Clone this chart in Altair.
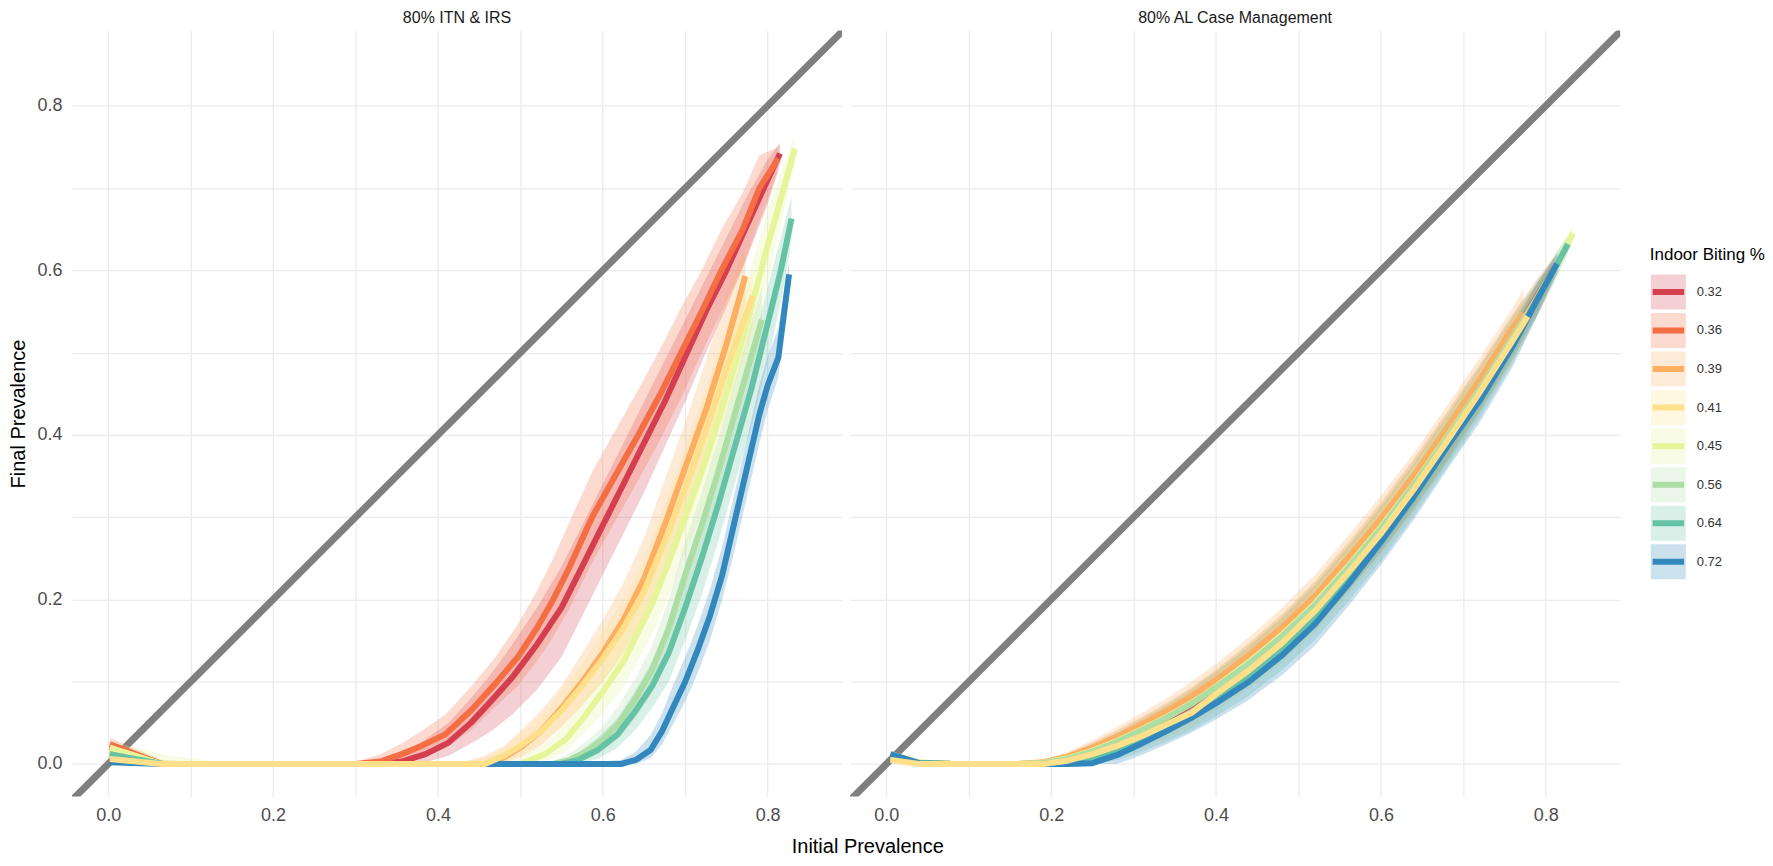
import altair as alt
import pandas as pd

FONT = "Liberation Sans"
CATS = ["0.32", "0.36", "0.39", "0.41", "0.45", "0.56", "0.64", "0.72"]
COLORS = ["#d53e4f", "#f46d43", "#fdae61", "#fee08b", "#e6f598", "#abdda4", "#66c2a5", "#3288bd"]
DRAW_ORDER = ["0.32", "0.36", "0.39", "0.45", "0.56", "0.64", "0.72", "0.41"]
PANEL_ITN = "80% ITN & IRS"
PANEL_AL = "80% AL Case Management"
X_TITLE = "Initial Prevalence"
Y_TITLE = "Final Prevalence"
LEGEND_TITLE = "Indoor Biting %"
TICKS = [0.0, 0.1, 0.2, 0.3, 0.4, 0.5, 0.6, 0.7, 0.8]
DIAG = [-0.1, 1.0]
XDOM = [-0.044, 0.8903]
YDOM = [-0.0396, 0.8916]

# ---------------- 80% ITN & IRS ----------------
ITN_032_X = [0.002, 0.065, 0.15, 0.25, 0.33, 0.356, 0.385, 0.413, 0.44, 0.465, 0.49, 0.52, 0.55, 0.575, 0.60, 0.625, 0.65, 0.675, 0.70, 0.725, 0.75, 0.775, 0.80, 0.815]
ITN_032_Y = [0.020, 0.0, 0.0, 0.0, 0.0, 0.003, 0.012, 0.026, 0.05, 0.077, 0.105, 0.145, 0.19, 0.24, 0.29, 0.34, 0.39, 0.44, 0.495, 0.55, 0.60, 0.655, 0.71, 0.742]
ITN_032_LO = [0.012, 0.0, 0.0, 0.0, 0.0, 0.0, 0.002, 0.01, 0.025, 0.04, 0.06, 0.09, 0.13, 0.18, 0.23, 0.28, 0.33, 0.385, 0.44, 0.5, 0.555, 0.615, 0.68, 0.73]
ITN_032_HI = [0.028, 0.004, 0.0, 0.0, 0.002, 0.012, 0.03, 0.05, 0.08, 0.11, 0.145, 0.19, 0.24, 0.29, 0.34, 0.39, 0.44, 0.49, 0.54, 0.59, 0.64, 0.69, 0.735, 0.755]

ITN_036_X = [0.002, 0.065, 0.15, 0.25, 0.30, 0.33, 0.356, 0.38, 0.409, 0.441, 0.47, 0.497, 0.52, 0.54, 0.56, 0.587, 0.615, 0.643, 0.67, 0.695, 0.72, 0.744, 0.77, 0.79, 0.813]
ITN_036_Y = [0.024, 0.0, 0.0, 0.0, 0.0, 0.003, 0.012, 0.022, 0.036, 0.066, 0.098, 0.13, 0.165, 0.2, 0.24, 0.3, 0.35, 0.4, 0.45, 0.5, 0.55, 0.6, 0.65, 0.7, 0.736]
ITN_036_LO = [0.016, 0.0, 0.0, 0.0, 0.0, 0.0, 0.003, 0.01, 0.02, 0.042, 0.07, 0.095, 0.125, 0.155, 0.19, 0.245, 0.295, 0.345, 0.395, 0.445, 0.5, 0.55, 0.605, 0.66, 0.72]
ITN_036_HI = [0.032, 0.005, 0.0, 0.0, 0.002, 0.012, 0.025, 0.04, 0.06, 0.095, 0.13, 0.17, 0.21, 0.25, 0.295, 0.355, 0.405, 0.455, 0.505, 0.555, 0.6, 0.65, 0.695, 0.74, 0.75]

ITN_039_X = [0.002, 0.065, 0.15, 0.25, 0.35, 0.43, 0.457, 0.48, 0.50, 0.525, 0.55, 0.575, 0.60, 0.625, 0.65, 0.675, 0.70, 0.725, 0.75, 0.773]
ITN_039_Y = [0.015, 0.0, 0.0, 0.0, 0.0, 0.0, 0.0, 0.008, 0.02, 0.04, 0.068, 0.10, 0.135, 0.175, 0.225, 0.29, 0.36, 0.43, 0.51, 0.593]
ITN_039_LO = [0.008, 0.0, 0.0, 0.0, 0.0, 0.0, 0.0, 0.001, 0.008, 0.022, 0.045, 0.072, 0.1, 0.135, 0.18, 0.24, 0.305, 0.375, 0.455, 0.56]
ITN_039_HI = [0.022, 0.004, 0.0, 0.0, 0.0, 0.002, 0.01, 0.022, 0.04, 0.065, 0.095, 0.135, 0.175, 0.22, 0.275, 0.345, 0.415, 0.49, 0.57, 0.63]

ITN_041_X = [0.002, 0.065, 0.15, 0.25, 0.35, 0.43, 0.457, 0.48, 0.50, 0.525, 0.55, 0.575, 0.60, 0.625, 0.65, 0.675, 0.70, 0.725, 0.75, 0.782]
ITN_041_Y = [0.006, 0.0, 0.0, 0.0, 0.0, 0.0, 0.0, 0.01, 0.022, 0.04, 0.065, 0.095, 0.128, 0.165, 0.21, 0.27, 0.335, 0.405, 0.48, 0.569]
ITN_041_LO = [0.002, 0.0, 0.0, 0.0, 0.0, 0.0, 0.0, 0.003, 0.01, 0.025, 0.045, 0.07, 0.1, 0.13, 0.17, 0.225, 0.285, 0.355, 0.43, 0.53]
ITN_041_HI = [0.012, 0.003, 0.0, 0.0, 0.0, 0.002, 0.008, 0.02, 0.036, 0.058, 0.088, 0.122, 0.16, 0.2, 0.25, 0.315, 0.385, 0.455, 0.53, 0.6]

ITN_045_X = [0.002, 0.065, 0.15, 0.25, 0.35, 0.45, 0.50, 0.53, 0.555, 0.578, 0.60, 0.626, 0.645, 0.66, 0.68, 0.70, 0.725, 0.75, 0.775, 0.80, 0.833]
ITN_045_Y = [0.02, 0.0, 0.0, 0.0, 0.0, 0.0, 0.0, 0.012, 0.03, 0.058, 0.088, 0.126, 0.165, 0.195, 0.245, 0.3, 0.37, 0.45, 0.535, 0.63, 0.748]
ITN_045_LO = [0.012, 0.0, 0.0, 0.0, 0.0, 0.0, 0.0, 0.003, 0.015, 0.038, 0.062, 0.095, 0.13, 0.158, 0.205, 0.255, 0.32, 0.4, 0.485, 0.585, 0.73]
ITN_045_HI = [0.028, 0.012, 0.0, 0.0, 0.0, 0.002, 0.008, 0.025, 0.048, 0.08, 0.115, 0.158, 0.2, 0.232, 0.285, 0.345, 0.42, 0.5, 0.585, 0.675, 0.765]

ITN_056_X = [0.002, 0.065, 0.15, 0.25, 0.35, 0.45, 0.54, 0.56, 0.58, 0.60, 0.62, 0.64, 0.66, 0.68, 0.70, 0.72, 0.74, 0.76, 0.78, 0.793]
ITN_056_Y = [0.01, 0.0, 0.0, 0.0, 0.0, 0.0, 0.0, 0.005, 0.015, 0.03, 0.05, 0.08, 0.115, 0.165, 0.23, 0.29, 0.355, 0.425, 0.495, 0.54]
ITN_056_LO = [0.005, 0.0, 0.0, 0.0, 0.0, 0.0, 0.0, 0.0, 0.006, 0.016, 0.032, 0.056, 0.088, 0.13, 0.19, 0.25, 0.315, 0.385, 0.455, 0.51]
ITN_056_HI = [0.016, 0.003, 0.0, 0.0, 0.0, 0.0, 0.004, 0.013, 0.027, 0.046, 0.072, 0.105, 0.145, 0.2, 0.27, 0.33, 0.395, 0.465, 0.535, 0.58]

ITN_064_X = [0.002, 0.065, 0.15, 0.25, 0.35, 0.45, 0.55, 0.57, 0.594, 0.618, 0.64, 0.66, 0.68, 0.70, 0.72, 0.74, 0.76, 0.78, 0.80, 0.816, 0.829]
ITN_064_Y = [0.012, 0.0, 0.0, 0.0, 0.0, 0.0, 0.0, 0.005, 0.017, 0.036, 0.065, 0.095, 0.135, 0.19, 0.25, 0.315, 0.385, 0.455, 0.535, 0.6, 0.663]
ITN_064_LO = [0.006, 0.0, 0.0, 0.0, 0.0, 0.0, 0.0, 0.0, 0.006, 0.02, 0.042, 0.068, 0.1, 0.15, 0.205, 0.27, 0.34, 0.41, 0.49, 0.56, 0.635]
ITN_064_HI = [0.018, 0.003, 0.0, 0.0, 0.0, 0.0, 0.003, 0.014, 0.032, 0.056, 0.09, 0.125, 0.17, 0.23, 0.295, 0.36, 0.43, 0.5, 0.58, 0.64, 0.69]

ITN_072_X = [0.002, 0.065, 0.15, 0.25, 0.35, 0.45, 0.55, 0.622, 0.64, 0.658, 0.672, 0.685, 0.70, 0.715, 0.73, 0.745, 0.76, 0.775, 0.79, 0.80, 0.813, 0.826]
ITN_072_Y = [0.002, 0.0, 0.0, 0.0, 0.0, 0.0, 0.0, 0.0, 0.005, 0.017, 0.04, 0.068, 0.1, 0.138, 0.18, 0.23, 0.295, 0.36, 0.425, 0.46, 0.494, 0.595]
ITN_072_LO = [0.0, 0.0, 0.0, 0.0, 0.0, 0.0, 0.0, 0.0, 0.0, 0.007, 0.024, 0.048, 0.076, 0.11, 0.15, 0.2, 0.26, 0.325, 0.39, 0.43, 0.47, 0.58]
ITN_072_HI = [0.004, 0.002, 0.0, 0.0, 0.0, 0.0, 0.0, 0.005, 0.015, 0.035, 0.062, 0.095, 0.13, 0.168, 0.212, 0.265, 0.33, 0.395, 0.46, 0.495, 0.53, 0.61]

# ---------------- 80% AL Case Management ----------------
AL_X_GRID = [0.005, 0.04, 0.08, 0.12, 0.16, 0.19, 0.22, 0.25, 0.28, 0.31, 0.34, 0.37, 0.40, 0.44, 0.48, 0.52, 0.56, 0.60, 0.64, 0.68, 0.72, 0.76]
AL_W_GRID = [0.004, 0.002, 0.0, 0.0, 0.001, 0.003, 0.006, 0.009, 0.012, 0.014, 0.016, 0.018, 0.02, 0.022, 0.024, 0.026, 0.027, 0.028, 0.028, 0.028, 0.027, 0.025]

AL_032_Y = [0.008, 0.001, 0.0, 0.0, 0.0, 0.0, 0.005, 0.014, 0.026, 0.04, 0.055, 0.072, 0.092, 0.121, 0.154, 0.192, 0.237, 0.285, 0.338, 0.395, 0.455, 0.518]
AL_032_XEND = [0.79, 0.81]
AL_032_YEND = [0.566, 0.603]
AL_032_WEND = [0.02, 0.012]

AL_036_Y = [0.010, 0.001, 0.0, 0.0, 0.0, 0.001, 0.007, 0.017, 0.029, 0.043, 0.058, 0.075, 0.095, 0.125, 0.158, 0.196, 0.242, 0.29, 0.343, 0.40, 0.459, 0.522]
AL_036_XEND = [0.79, 0.815]
AL_036_YEND = [0.57, 0.61]
AL_036_WEND = [0.02, 0.012]

AL_039_Y = [0.008, 0.001, 0.0, 0.0, 0.0, 0.002, 0.009, 0.02, 0.033, 0.048, 0.064, 0.082, 0.102, 0.132, 0.166, 0.204, 0.25, 0.298, 0.35, 0.407, 0.467, 0.53]
AL_039_XEND = [0.773]
AL_039_YEND = [0.548]
AL_039_WEND = [0.03]

AL_041_Y = [0.005, 0.0, 0.0, 0.0, 0.0, 0.0, 0.004, 0.012, 0.022, 0.034, 0.048, 0.062, 0.085, 0.114, 0.147, 0.186, 0.232, 0.28, 0.334, 0.392, 0.452, 0.515]
AL_041_XEND = [0.778]
AL_041_YEND = [0.544]
AL_041_WEND = [0.02]

AL_045_Y = [0.012, 0.002, 0.0, 0.0, 0.0, 0.001, 0.007, 0.016, 0.028, 0.042, 0.057, 0.074, 0.094, 0.124, 0.157, 0.195, 0.24, 0.288, 0.34, 0.397, 0.456, 0.519]
AL_045_XEND = [0.79, 0.815, 0.833]
AL_045_YEND = [0.567, 0.61, 0.645]
AL_045_WEND = [0.02, 0.015, 0.01]

AL_056_Y = [0.009, 0.001, 0.0, 0.0, 0.0, 0.001, 0.006, 0.015, 0.027, 0.041, 0.056, 0.073, 0.093, 0.122, 0.155, 0.193, 0.238, 0.286, 0.339, 0.396, 0.456, 0.519]
AL_056_XEND = [0.79, 0.80]
AL_056_YEND = [0.567, 0.585]
AL_056_WEND = [0.02, 0.015]

AL_064_Y = [0.009, 0.001, 0.0, 0.0, 0.0, 0.0, 0.002, 0.008, 0.017, 0.029, 0.043, 0.058, 0.078, 0.105, 0.138, 0.177, 0.224, 0.274, 0.329, 0.388, 0.447, 0.512]
AL_064_XEND = [0.79, 0.815, 0.827]
AL_064_YEND = [0.565, 0.61, 0.632]
AL_064_WEND = [0.02, 0.015, 0.01]

AL_072_Y = [0.012, 0.001, 0.0, 0.0, 0.0, 0.0, 0.0, 0.001, 0.011, 0.025, 0.04, 0.056, 0.074, 0.1, 0.132, 0.17, 0.218, 0.27, 0.325, 0.385, 0.442, 0.508]
AL_072_XEND = [0.79, 0.8137]
AL_072_YEND = [0.565, 0.608]
AL_072_WEND = [0.02, 0.012]

# ---------------- build table ----------------
ITN_SERIES = {
    "0.32": (ITN_032_X, ITN_032_Y, ITN_032_LO, ITN_032_HI),
    "0.36": (ITN_036_X, ITN_036_Y, ITN_036_LO, ITN_036_HI),
    "0.39": (ITN_039_X, ITN_039_Y, ITN_039_LO, ITN_039_HI),
    "0.41": (ITN_041_X, ITN_041_Y, ITN_041_LO, ITN_041_HI),
    "0.45": (ITN_045_X, ITN_045_Y, ITN_045_LO, ITN_045_HI),
    "0.56": (ITN_056_X, ITN_056_Y, ITN_056_LO, ITN_056_HI),
    "0.64": (ITN_064_X, ITN_064_Y, ITN_064_LO, ITN_064_HI),
    "0.72": (ITN_072_X, ITN_072_Y, ITN_072_LO, ITN_072_HI),
}
AL_SERIES = {
    "0.32": (AL_032_Y, AL_032_XEND, AL_032_YEND, AL_032_WEND),
    "0.36": (AL_036_Y, AL_036_XEND, AL_036_YEND, AL_036_WEND),
    "0.39": (AL_039_Y, AL_039_XEND, AL_039_YEND, AL_039_WEND),
    "0.41": (AL_041_Y, AL_041_XEND, AL_041_YEND, AL_041_WEND),
    "0.45": (AL_045_Y, AL_045_XEND, AL_045_YEND, AL_045_WEND),
    "0.56": (AL_056_Y, AL_056_XEND, AL_056_YEND, AL_056_WEND),
    "0.64": (AL_064_Y, AL_064_XEND, AL_064_YEND, AL_064_WEND),
    "0.72": (AL_072_Y, AL_072_XEND, AL_072_YEND, AL_072_WEND),
}

rows = []
for cat, (xs, ys, los, his) in ITN_SERIES.items():
    for x, y, lo, hi in zip(xs, ys, los, his):
        rows.append({"panel": PANEL_ITN, "cat": cat, "x": x, "y": y, "lo": lo, "hi": hi})
for cat, (ys, xe, ye, we) in AL_SERIES.items():
    for x, y, w in zip(AL_X_GRID + xe, ys + ye, AL_W_GRID + we):
        rows.append({"panel": PANEL_AL, "cat": cat, "x": x, "y": y, "lo": max(0.0, y - w), "hi": y + w})
df = pd.DataFrame(rows)
diag_df = pd.DataFrame({"x": DIAG, "y": DIAG})
leg_df = pd.DataFrame({"cat": CATS})
leg_title_df = pd.DataFrame({"t": [LEGEND_TITLE]})

LABEL_EXPR = "abs(round(datum.value * 10)) % 2 == 0 ? format(datum.value, '.1f') : ''"
PW, PH = 771, 767


def panel(name, show_y):
    d = df[df["panel"] == name]
    xaxis = alt.Axis(values=TICKS, labelExpr=LABEL_EXPR, title=None, ticks=False, tickSize=0,
                     domain=False, labelPadding=10, labelFontSize=18, labelColor="#4d4d4d",
                     labelFont=FONT, grid=True)
    if show_y:
        yaxis = alt.Axis(values=TICKS, labelExpr=LABEL_EXPR, title=Y_TITLE, ticks=False, tickSize=0,
                         domain=False, labelPadding=10, labelFontSize=18, labelColor="#4d4d4d",
                         labelFont=FONT, grid=True, titleFontSize=20, titleFont=FONT,
                         titleFontWeight="normal", titleColor="#000000", titlePadding=8.5)
    else:
        yaxis = alt.Axis(values=TICKS, labels=False, title=None, ticks=False, tickSize=0,
                         domain=False, grid=True)
    xs = alt.Scale(domain=XDOM, nice=False, zero=False)
    ys = alt.Scale(domain=YDOM, nice=False, zero=False)
    xenc = alt.X("x:Q", scale=xs, axis=xaxis)

    diag = alt.Chart(diag_df).mark_line(color="#7f7f7f", strokeWidth=7, clip=True).encode(
        x=xenc, y=alt.Y("y:Q", scale=ys, axis=yaxis))
    rib = alt.Chart(d).mark_area(opacity=0.25).encode(
        x=xenc,
        y=alt.Y("lo:Q", scale=ys, axis=yaxis, stack=None),
        y2="hi:Q",
        color=alt.Color("cat:N", scale=alt.Scale(domain=CATS, range=COLORS), legend=None),
    )
    lines = []
    for c in DRAW_ORDER:
        lines.append(
            alt.Chart(d).transform_filter(alt.datum.cat == c)
            .mark_line(strokeWidth=6, color=COLORS[CATS.index(c)], strokeJoin="round", strokeCap="butt")
            .encode(x=xenc, y=alt.Y("y:Q", scale=ys, axis=yaxis))
        )
    return alt.layer(diag, rib, *lines).properties(
        width=PW, height=PH,
        title=alt.TitleParams(name, fontSize=16, fontWeight="normal", font=FONT, color="#1a1a1a",
                              anchor="middle", offset=4),
    )


left = panel(PANEL_ITN, True)
right = panel(PANEL_AL, False)

ly = alt.Y("cat:N", scale=alt.Scale(domain=CATS, paddingInner=0.09, paddingOuter=0, range=[244.2, 549.5]),
           axis=None)
cscale = alt.Scale(domain=CATS, range=COLORS)
boxes = alt.Chart(leg_df).mark_rect(opacity=0.25).encode(
    y=ly, x=alt.value(22.7), x2=alt.value(57.7), color=alt.Color("cat:N", scale=cscale, legend=None))
keys = alt.Chart(leg_df).mark_rule(strokeWidth=6).encode(
    y=ly, x=alt.value(24.5), x2=alt.value(56), color=alt.Color("cat:N", scale=cscale, legend=None))
labels = alt.Chart(leg_df).mark_text(align="left", baseline="middle", fontSize=13, font=FONT,
                                     color="#333333").encode(y=ly, x=alt.value(68.7), text="cat:N")
ltitle = alt.Chart(leg_title_df).mark_text(align="left", baseline="middle", fontSize=17, font=FONT,
                                           color="#000000").encode(
    x=alt.value(21.7), y=alt.value(225), text="t:N")
legend = alt.layer(boxes, keys, labels, ltitle).properties(width=120, height=PH)

chart = alt.hconcat(left, right, legend, spacing=8).properties(
    padding={"top": 2, "left": 0, "right": 0, "bottom": 0},
    title=alt.TitleParams(X_TITLE, orient="bottom", anchor="middle", fontSize=20, fontWeight="normal",
                          font=FONT, color="#000000", offset=12, dx=-19),
).configure_view(stroke=None).configure_axis(gridColor="#ebebeb", gridWidth=1.3)

chart.save("out.html", embed_options={"renderer": "svg", "actions": False})
